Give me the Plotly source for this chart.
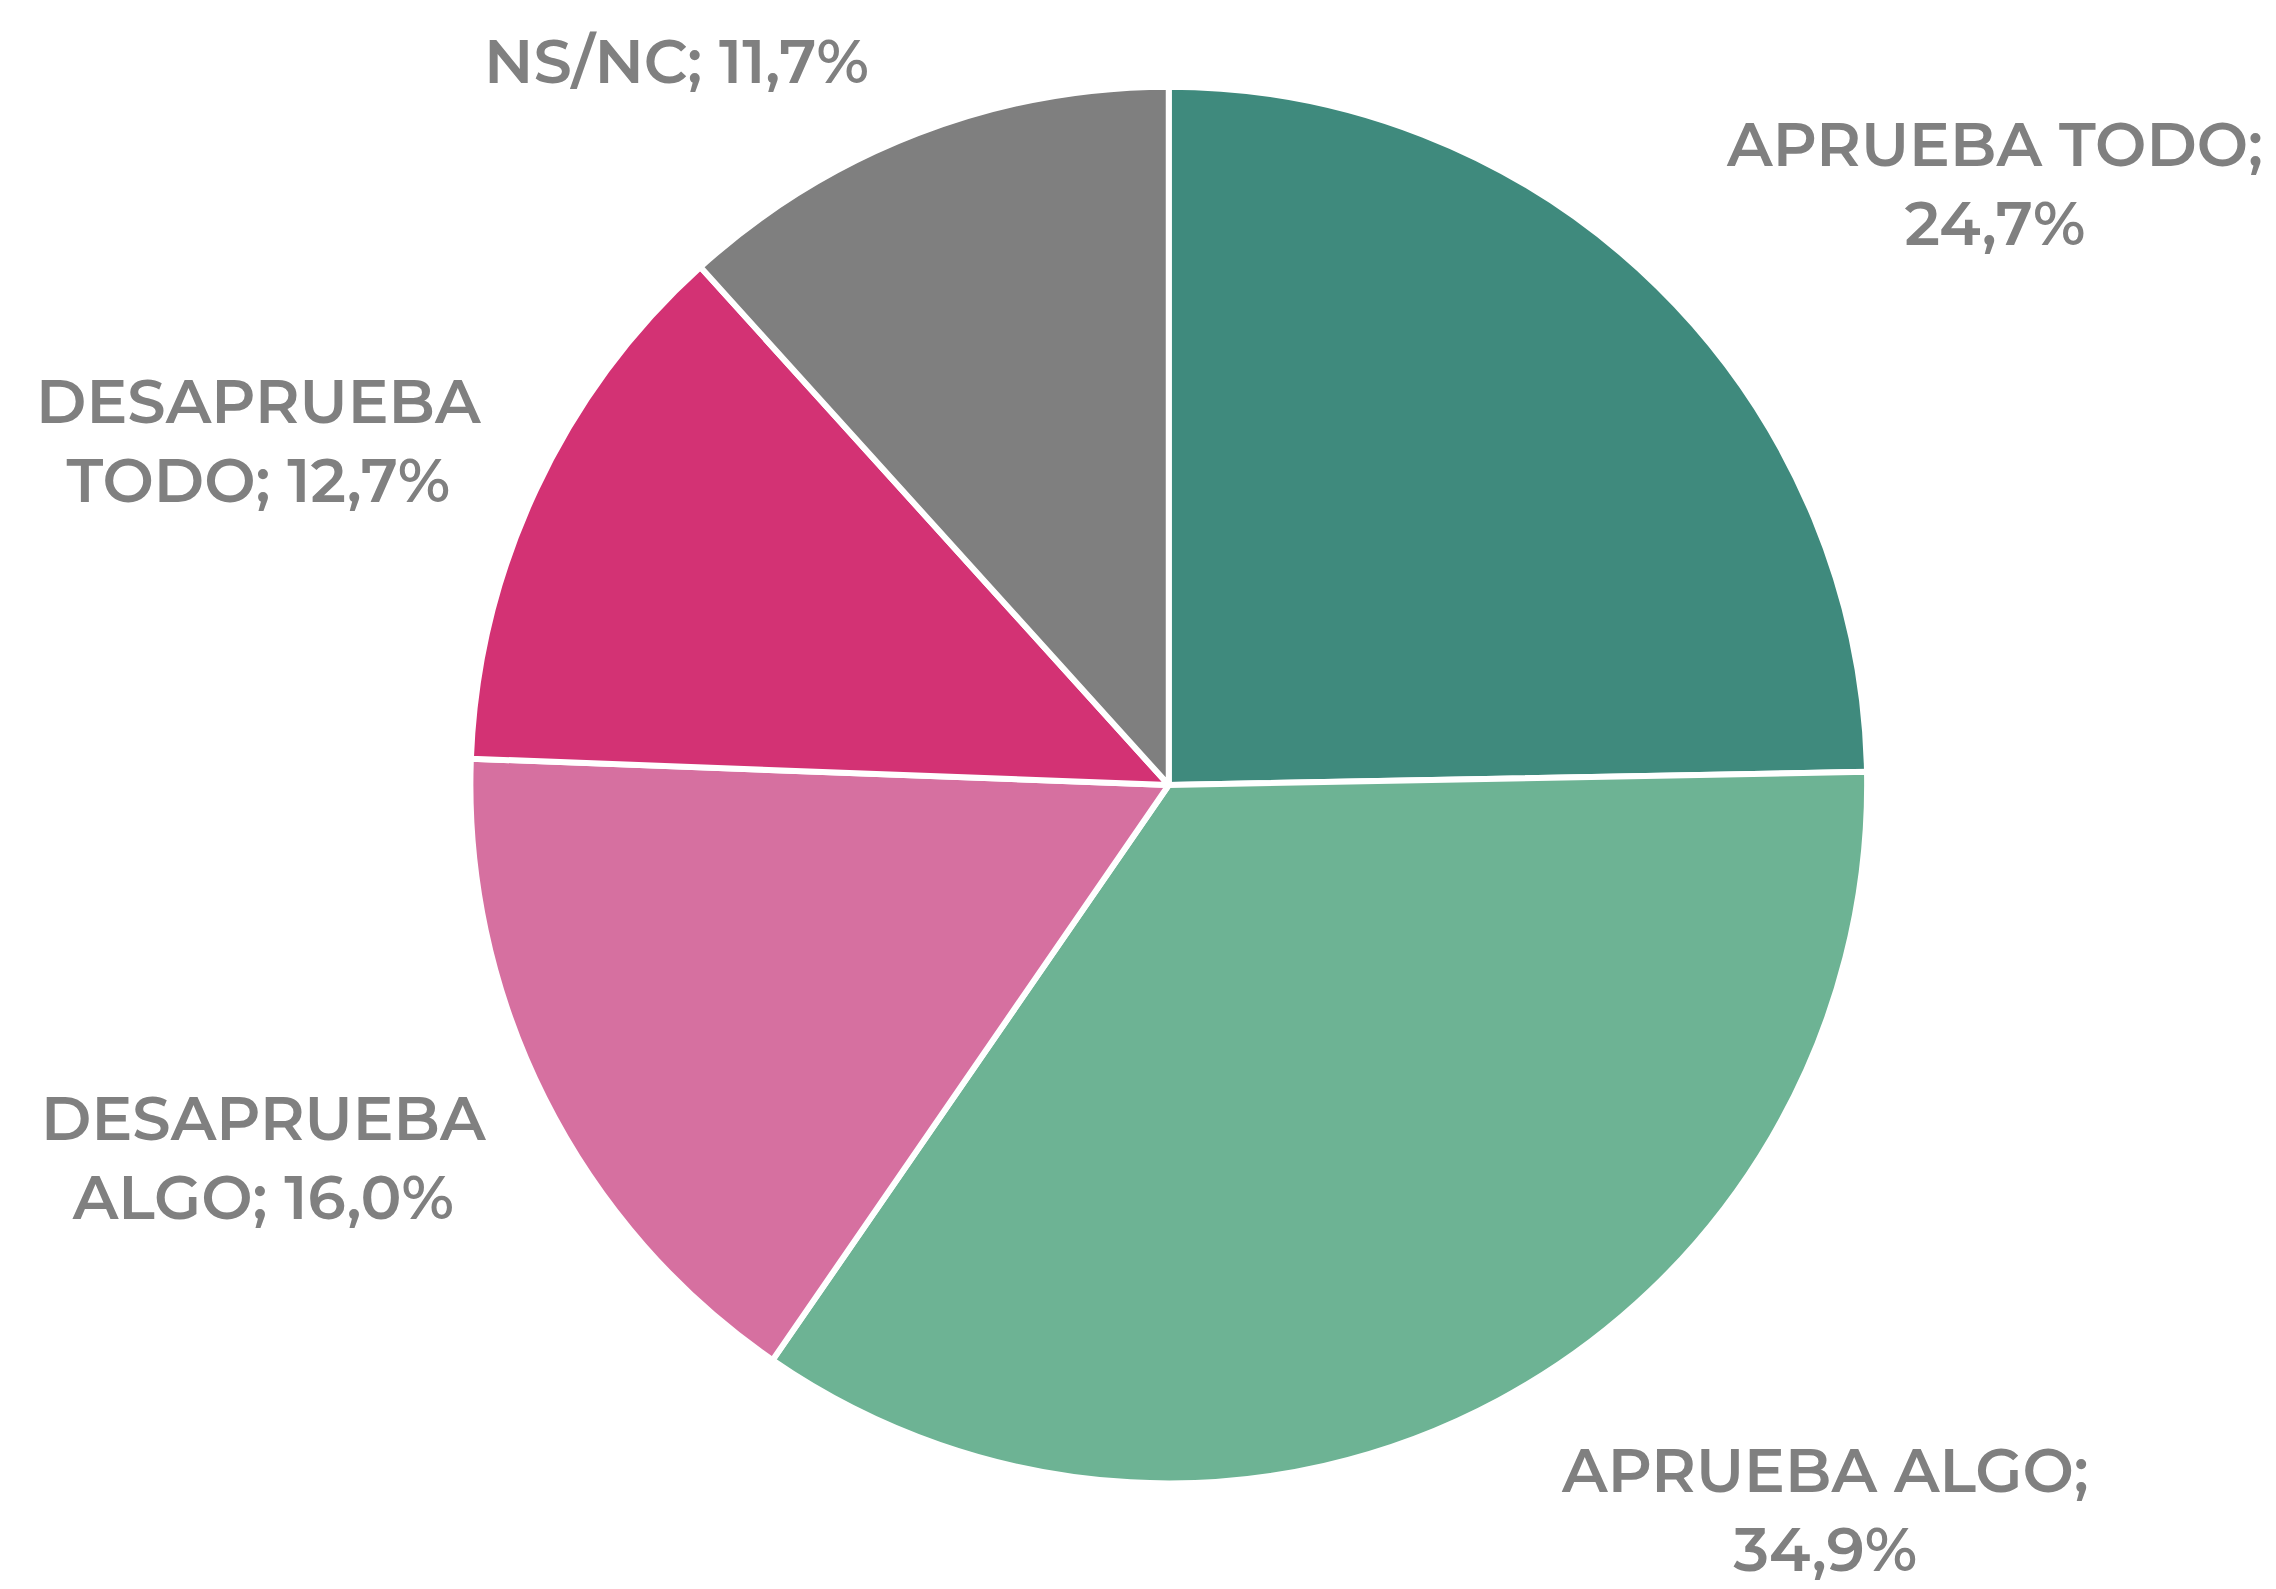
import plotly.graph_objects as go

categories = ["APRUEBA TODO", "APRUEBA ALGO", "DESAPRUEBA ALGO", "DESAPRUEBA TODO", "NS/NC"]
values = [24.7, 34.9, 16.0, 12.7, 11.7]
colors = ["#3f8a7d", "#6db394", "#d670a0", "#d33274", "#7f7f7f"]

W, H = 2276, 1589

fig = go.Figure(go.Pie(
    labels=categories,
    values=values,
    sort=False,
    direction="clockwise",
    rotation=0,
    marker=dict(colors=colors, line=dict(color="white", width=6)),
    textinfo="none",
    hoverinfo="label+percent",
    showlegend=False,
    domain=dict(x=[0.2030, 0.8170], y=[0.0715, 0.9505]),
))

def fmt(v):
    return f"{v:.1f}%".replace(".", ",")

def label_text(cat, v):
    words = cat.split(" ")
    if cat.startswith("APRUEBA"):
        return f"{cat};<br>{fmt(v)}"
    if cat.startswith("DESAPRUEBA"):
        return f"{words[0]}<br>{' '.join(words[1:])}; {fmt(v)}"
    return f"{cat}; {fmt(v)}"

# label anchor positions (pixels), per category
label_pos = {
    "APRUEBA TODO": (1986, 176),
    "APRUEBA ALGO": (1817, 1501),
    "DESAPRUEBA ALGO": (255, 1149),
    "DESAPRUEBA TODO": (250, 432),
    "NS/NC": (668, 53),
}

for cat, v in zip(categories, values):
    px, py = label_pos[cat]
    fig.add_annotation(
        x=px / W, y=1 - py / H, xref="paper", yref="paper",
        text=label_text(cat, v), showarrow=False,
        xanchor="center", yanchor="middle", align="center",
        font=dict(family="Montserrat, Lato, 'Noto Sans', sans-serif", size=61, color="#808080", weight=600),
    )

fig.update_layout(
    width=W, height=H,
    margin=dict(l=0, r=0, t=0, b=0),
    paper_bgcolor="white",
    plot_bgcolor="white",
)

fig.write_html("out.html")
